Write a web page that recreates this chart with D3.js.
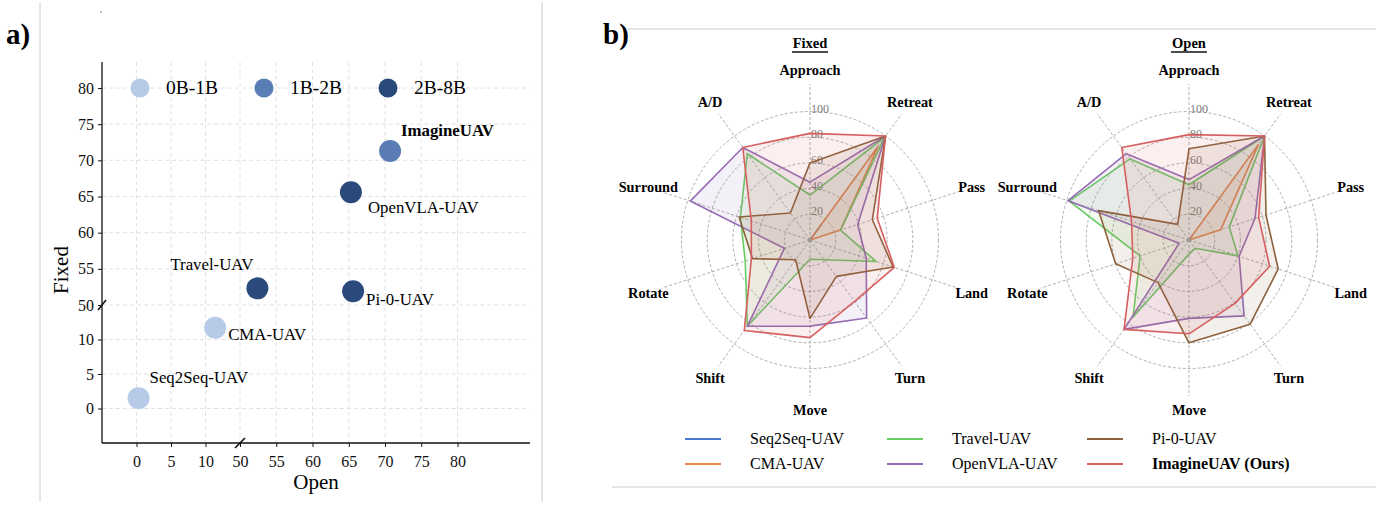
<html>
<head>
<script src="https://d3js.org/d3.v7.min.js"></script>
<style>
  body { margin: 0; background: #fff; }
  text { font-family: "Liberation Serif", "Times New Roman", serif; }
</style>
</head>
<body>
<svg id="fig" width="1380" height="508"></svg>
<script>
    // ---- data: panel a ----
    const sizeGroups = ["0B-1B", "1B-2B", "2B-8B"];
    const sizeColors = ["#b7cbe8", "#5a7db5", "#2b4a7c"];
    const scatterModels = ["Seq2Seq-UAV", "CMA-UAV", "Travel-UAV", "Pi-0-UAV", "OpenVLA-UAV", "ImagineUAV"];
    const openAvg = [0.3, 11.4, 52.4, 65.6, 65.3, 70.7];
    const fixedAvg = [1.5, 11.7, 52.3, 51.9, 65.6, 71.3];
    const sizeIdx = [0, 0, 2, 2, 2, 1];
    const lowTicks = [0, 5, 10];
    const highTicks = [50, 55, 60, 65, 70, 75, 80];

    // ---- data: panel b ----
    const tasks = ["Approach", "Retreat", "Pass", "Land", "Turn", "Move", "Shift", "Rotate", "Surround", "A/D"];
    const models = ["Seq2Seq-UAV", "CMA-UAV", "Travel-UAV", "OpenVLA-UAV", "Pi-0-UAV", "ImagineUAV (Ours)"];
    const modelColors = ["#4878d0", "#ee854a", "#6acc64", "#956cb4", "#8c613c", "#d65f5f"];
    const fixedScores = [
        [0, 15, 0, 0, 0, 0, 0, 0, 0, 0],
        [0, 90, 25, 0, 0, 0, 0, 0, 0, 0],
        [35, 99, 25, 54, 19, 15, 83, 53, 57, 83],
        [45, 100, 39, 46, 75, 67, 83, 21, 98, 89],
        [60, 100, 51, 68, 35, 61, 19, 47, 58, 26],
        [83, 100, 55, 69, 59, 76, 87, 48, 48, 89]
    ];
    const openScores = [
        [0, 4, 0, 0, 0, 0, 0, 0, 0, 0],
        [0, 92, 26, 0, 0, 0, 0, 0, 0, 0],
        [43, 100, 33, 40, 8, 11, 74, 40, 98, 78],
        [47, 100, 54, 41, 73, 61, 86, 8, 99, 83],
        [71, 100, 63, 73, 81, 80, 41, 60, 74, 15],
        [82, 100, 57, 66, 61, 73, 86, 46, 47, 89]
    ];
    const ringTicks = [20, 40, 60, 80, 100];

    const svg = d3.select("#fig");
    svg.append("rect").attr("width", 1380).attr("height", 508).attr("fill", "#fff");

    // panel frames
    svg.append("line").attr("x1", 40).attr("x2", 40).attr("y1", 2).attr("y2", 502).attr("stroke", "#ccc");
    svg.append("line").attr("x1", 542).attr("x2", 542).attr("y1", 2).attr("y2", 502).attr("stroke", "#ccc");
    svg.append("line").attr("x1", 628).attr("x2", 1376).attr("y1", 29).attr("y2", 29).attr("stroke", "#ccc");
    svg.append("line").attr("x1", 612).attr("x2", 1376).attr("y1", 487).attr("y2", 487).attr("stroke", "#ccc");
    svg.append("text").attr("x", 6).attr("y", 44).attr("font-size", 29).attr("font-weight", "bold").text("a)");
    svg.append("text").attr("x", 603).attr("y", 44).attr("font-size", 29).attr("font-weight", "bold").text("b)");
    svg.append("circle").attr("cx", 101).attr("cy", 12).attr("r", 0.7).attr("fill", "#555");

    // ===== panel a: broken-axis scatter =====
    const xLow = d3.scaleLinear().domain([-5, 15]).range([102, 240]);
    const xHigh = d3.scaleLinear().domain([50, 90]).range([240, 530]);
    const yLow = d3.scaleLinear().domain([-5, 15]).range([443, 305]);
    const yHigh = d3.scaleLinear().domain([50, 83.6]).range([305, 62]);
    const xPos = v => v < 30 ? xLow(v) : xHigh(v);
    const yPos = v => v < 30 ? yLow(v) : yHigh(v);

    const a = svg.append("g");
    const grid = a.append("g").attr("stroke", "#e2e2e2").attr("stroke-dasharray", "4,3");
    lowTicks.concat(highTicks).forEach(t => {
        grid.append("line").attr("x1", xPos(t)).attr("x2", xPos(t)).attr("y1", 62).attr("y2", 443);
        grid.append("line").attr("y1", yPos(t)).attr("y2", yPos(t)).attr("x1", 102).attr("x2", 530);
    });

    // axes built from d3 axes per segment
    function seg(g, axis) {
        g.call(axis).call(s => s.select(".domain").remove());
        g.selectAll("text").attr("font-size", 16).attr("font-family", "Liberation Serif").attr("fill", "#111");
        g.selectAll(".tick line").attr("stroke", "#111");
    }
    seg(a.append("g").attr("transform", "translate(102,0)"), d3.axisLeft(yLow).tickValues(lowTicks).tickSize(4).tickPadding(4));
    seg(a.append("g").attr("transform", "translate(102,0)"), d3.axisLeft(yHigh).tickValues(highTicks).tickSize(4).tickPadding(4));
    seg(a.append("g").attr("transform", "translate(0,443)"), d3.axisBottom(xLow).tickValues(lowTicks).tickSize(4).tickPadding(9));
    seg(a.append("g").attr("transform", "translate(0,443)"), d3.axisBottom(xHigh).tickValues(highTicks).tickSize(4).tickPadding(9));
    a.append("line").attr("x1", 102).attr("x2", 102).attr("y1", 62).attr("y2", 443).attr("stroke", "#111").attr("stroke-width", 1.3);
    a.append("line").attr("x1", 102).attr("x2", 530).attr("y1", 443).attr("y2", 443).attr("stroke", "#111").attr("stroke-width", 1.3);
    // break marks
    a.append("line").attr("x1", 98).attr("x2", 106).attr("y1", 310).attr("y2", 300).attr("stroke", "#111").attr("stroke-width", 1.6);
    a.append("line").attr("x1", 235).attr("x2", 245).attr("y1", 448).attr("y2", 438).attr("stroke", "#111").attr("stroke-width", 1.6);

    a.append("text").attr("transform", "translate(68,270) rotate(-90)").attr("text-anchor", "middle")
        .attr("font-size", 21).text("Fixed");
    a.append("text").attr("x", 316).attr("y", 489).attr("text-anchor", "middle").attr("font-size", 21).text("Open");

    // legend
    sizeGroups.forEach((s, i) => {
        const lx = 140 + i * 124;
        a.append("circle").attr("cx", lx).attr("cy", 88).attr("r", 9.5).attr("fill", sizeColors[i]);
        a.append("text").attr("x", lx + 26).attr("y", 94).attr("font-size", 19.5).text(s);
    });

    const labelOffset = {
        "Seq2Seq-UAV": [11, -15], "CMA-UAV": [13, 12], "Travel-UAV": [-87, -18],
        "Pi-0-UAV": [13, 14], "OpenVLA-UAV": [17, 21], "ImagineUAV": [11, -15]
    };
    scatterModels.forEach((m, i) => {
        const px = xPos(openAvg[i]), py = yPos(fixedAvg[i]);
        a.append("circle").attr("cx", px).attr("cy", py).attr("r", 11).attr("fill", sizeColors[sizeIdx[i]]);
        a.append("text").attr("x", px + labelOffset[m][0]).attr("y", py + labelOffset[m][1])
            .attr("font-size", 16.8).attr("font-weight", m === "ImagineUAV" ? "bold" : "normal").text(m);
    });

    // ===== panel b: radar charts =====
    const R = 128.5;
    const r = d3.scaleLinear().domain([0, 100]).range([0, R]);
    const angle = i => i * 2 * Math.PI / tasks.length;

    function radar(cx, cy, title, scores) {
        const g = svg.append("g").attr("transform", `translate(${cx},${cy})`);
        g.append("text").attr("x", 0).attr("y", -192).attr("text-anchor", "middle")
            .attr("font-size", 14.5).attr("font-weight", "bold").text(title);
        g.append("line").attr("x1", -18).attr("x2", 18).attr("y1", -188).attr("y2", -188).attr("stroke", "#111").attr("stroke-width", 1.3);

        ringTicks.forEach(t => {
            g.append("circle").attr("r", r(t)).attr("fill", "none").attr("stroke", "#9a9a9a")
                .attr("stroke-width", 0.8).attr("stroke-dasharray", "3,2");
        });
        tasks.forEach((t, i) => {
            const a0 = angle(i);
            g.append("line").attr("x1", 0).attr("y1", 0)
                .attr("x2", Math.sin(a0) * 156).attr("y2", -Math.cos(a0) * 156)
                .attr("stroke", "#9a9a9a").attr("stroke-width", 0.8).attr("stroke-dasharray", "3,2");
            g.append("text").attr("x", Math.sin(a0) * 170).attr("y", -Math.cos(a0) * 170)
                .attr("text-anchor", "middle").attr("dominant-baseline", "central")
                .attr("font-size", 14.3).attr("font-weight", "bold").text(t);
        });
        ringTicks.forEach(t => {
            g.append("text").attr("x", 1).attr("y", -r(t) + 1).attr("font-size", 12)
                .attr("fill", "#7a7a7a").text(t);
        });

        const line = d3.lineRadial().angle((d, i) => angle(i)).radius(d => r(d)).curve(d3.curveLinearClosed);
        scores.forEach((s, k) => {
            g.append("path").attr("d", line(s)).attr("fill", modelColors[k]).attr("fill-opacity", 0.1)
                .attr("stroke", modelColors[k]).attr("stroke-width", 1.6).attr("stroke-linejoin", "round");
        });
        g.append("circle").attr("r", 2.2).attr("fill", "#999");
    }
    radar(810, 240, "Fixed", fixedScores);
    radar(1189, 240, "Open", openScores);

    // bottom legend, two rows filled column by column
    const legX = [685, 887, 1087];
    models.forEach((m, i) => {
        const lx = legX[Math.floor(i / 2)], ly = 439 + (i % 2) * 25;
        svg.append("line").attr("x1", lx).attr("x2", lx + 36).attr("y1", ly).attr("y2", ly)
            .attr("stroke", modelColors[i]).attr("stroke-width", 1.8);
        svg.append("text").attr("x", lx + 65).attr("y", ly + 5).attr("font-size", 16)
            .attr("font-weight", i === 5 ? "bold" : "normal").text(m);
    });
</script>
</body>
</html>
